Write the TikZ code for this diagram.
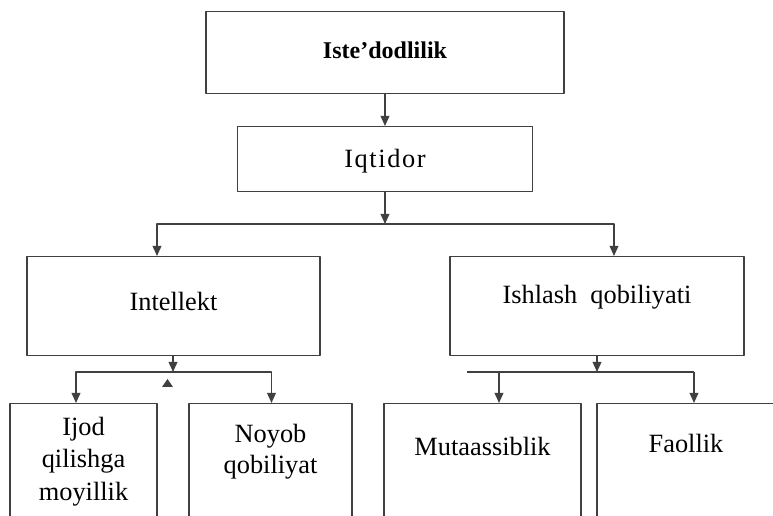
\documentclass[tikz,border=0pt]{standalone}
\usepackage{fontspec}
\setmainfont{Liberation Serif}
\usetikzlibrary{arrows.meta}

\tikzset{
  box/.style={draw=black!75, rectangle, anchor=north, inner sep=0pt, text=black,
    font=\fontsize{22.5}{27.5}\selectfont},
  >={Triangle[length=3mm,width=2.6mm]},
}

\begin{document}
\begin{tikzpicture}[x=0.03cm, y=-0.03cm, line width=1.2pt, color=black!75, line join=round]

                \clip (0,0) rectangle (773,516);

                % boxes
                \node[box, minimum width=10.74cm, text height=1.41cm, text depth=1.05cm,
                      font=\fontsize{20.5}{24}\selectfont\bfseries] (isted) at (385,11) {Iste’dodlilik};
                \node[box, minimum width=8.85cm, text height=1.23cm, text depth=0.72cm] (iqtid) at (385,126)
                      {\addfontfeature{LetterSpace=6}Iqtidor};
                \node[box, minimum width=8.79cm, text height=1.62cm, text depth=1.35cm] (intel) at (173.5,256) {Intellekt};
                \node[box, minimum width=8.82cm, text height=1.395cm, text depth=1.575cm] (ishla) at (597,256) {Ishlash~~qobiliyati};

                \node[box, minimum width=4.41cm, text height=0.96cm, text depth=3.3cm] (ijod) at (83.5,403)
                      {\begin{tabular}[t]{@{}c@{}}Ijod\\qilishga\\moyillik\end{tabular}};
                \node[box, minimum width=4.89cm, text height=1.17cm, text depth=3.3cm] (noyob) at (270.5,403)
                      {\begin{tabular}[t]{@{}c@{}}Noyob\\[-1pt]qobiliyat\end{tabular}};
                \node[box, minimum width=5.91cm, text height=1.56cm, text depth=3cm] (mutaa) at (482.5,403) {Mutaassiblik};
                \node[box, minimum width=5.34cm, text height=1.47cm, text depth=3cm] (faoll) at (686,403) {Faollik};

                % junctions
                \coordinate (jq) at (385,224);
                \coordinate (jql) at (157,224);
                \coordinate (jqr) at (614,224);

                \coordinate (ji) at (173,372);
                \coordinate (jil) at (76,372);
                \coordinate (jir) at (271.5,372);

                \coordinate (js) at (597,372);
                \coordinate (jsl) at (467,372);
                \coordinate (jsm) at (499,372);
                \coordinate (jsr) at (694,372);

                % connectors
                \draw[->] (isted.south) -- (iqtid.north);
                \draw[->] (iqtid.south) -- (jq);
                \draw[->] (jq) -- (jql) -- (jql |- intel.north);
                \draw[->] (jq) -- (jqr) -- (jqr |- ishla.north);

                \draw[->] (intel.south -| ji) -- (ji);
                \draw[->] (ji) -- (jil) -- (jil |- ijod.north);
                \draw[->] (ji) -- (jir) -- (jir |- noyob.north);

                \draw[->] (ishla.south) -- (js);
                \draw (jsl) -- (jsr);
                \draw[->] (jsm) -- (jsm |- mutaa.north);
                \draw[->] (jsr) -- (jsr |- faoll.north);

                \fill (162,387) -- (173,387) -- (167.5,379) -- cycle;

\end{tikzpicture}
\end{document}
